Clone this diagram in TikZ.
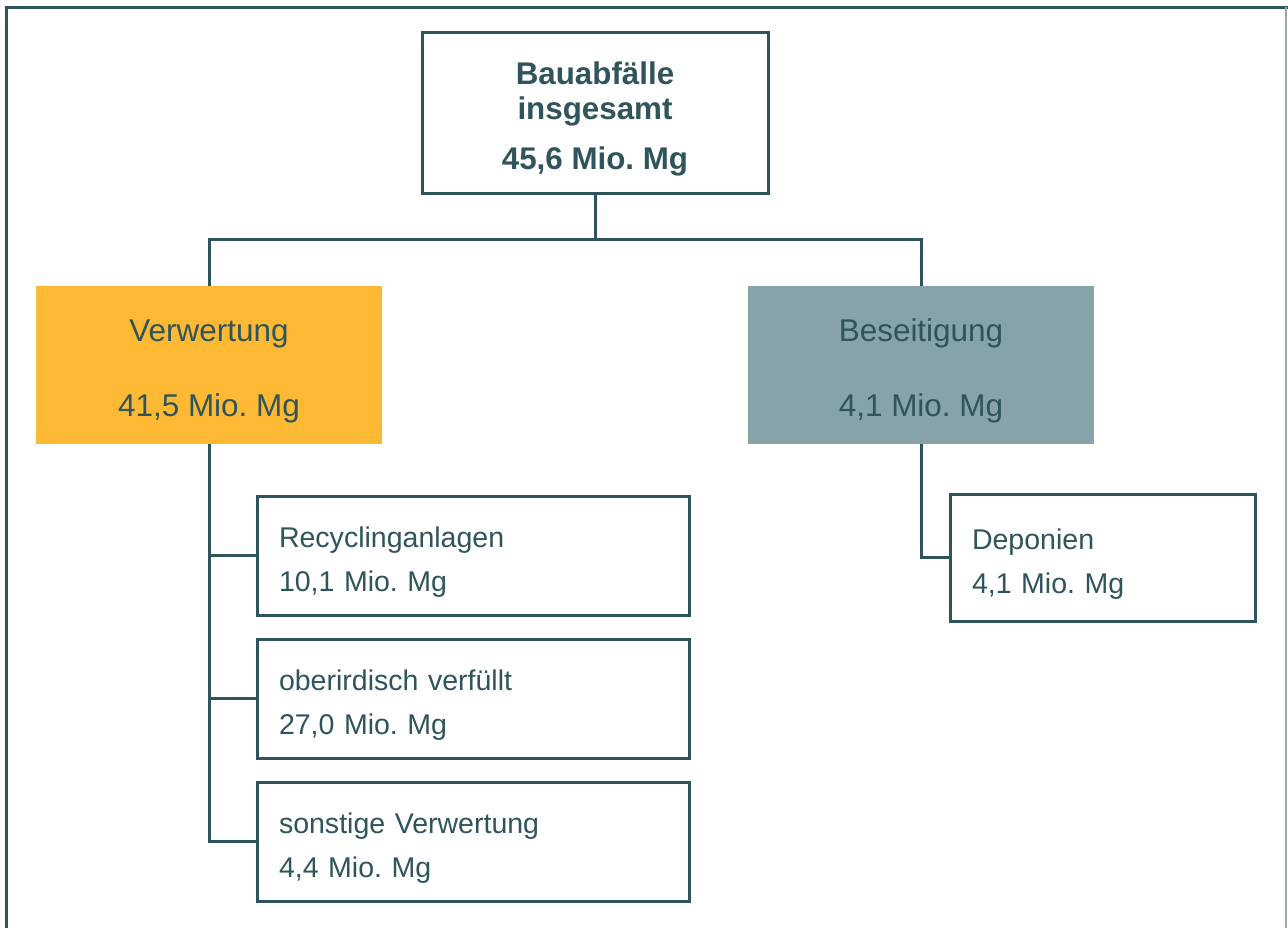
\documentclass[tikz,border=0pt]{standalone}
\usepackage{fontspec}
\setmainfont{Liberation Sans}
\usepackage{xcolor}
\usepackage{tikz}
\usetikzlibrary{positioning}
\definecolor{lineDark}{HTML}{30545C}
\definecolor{verwFill}{HTML}{FDB933}
\definecolor{beseitFill}{HTML}{86A3A7}
\definecolor{frameGrey}{HTML}{9AA5AA}
\frenchspacing

\begin{document}
\begin{tikzpicture}[
  x=0.75pt, y=-0.75pt,
  topbox/.style={rectangle, draw=lineDark, line width=2.25pt, fill=white, minimum width=259.5pt, minimum height=120.75pt, inner sep=0pt, align=center, text height=86pt, text depth=-2.5pt, text=lineDark, font=\fontsize{23.5pt}{26.25pt}\selectfont\bfseries},
  mainbox/.style={rectangle, minimum width=259.5pt, minimum height=118.5pt, inner sep=0pt, align=center, text height=77pt, text depth=-2.5pt, text=lineDark, font=\fontsize{23.6pt}{28pt}\selectfont},
  subbox/.style={rectangle, draw=lineDark, line width=2.25pt, fill=white, minimum width=324pt, minimum height=89.25pt, text width=291pt, inner xsep=16.5pt, inner ysep=0pt, align=left, text depth=27.5pt, text=lineDark, font=\fontsize{21.4pt}{33pt}\selectfont},
  line/.style={draw=lineDark, line width=2.25pt}
]
  \useasboundingbox (0,0) rectangle (1288,928);
  % Frame
  \draw [line] (6,928) -- (6,7) -- (1288,7);
  \draw [draw=frameGrey, line width=1.1pt] (1286,7) -- (1286,928);

  % Nodes
  \node (total) [topbox] at (595,112.5) {Bauabfälle\\insgesamt\\[11.25pt]45,6 Mio. Mg};

  \node (verw) [mainbox, fill=verwFill] at (209,365) {Verwertung\\[28.25pt]41,5 Mio. Mg};
  \node (beseit) [mainbox, fill=beseitFill] at (921,365) {Beseitigung\\[28.25pt]4,1 Mio. Mg};

  \node (recyc) [subbox] at (473,555.5) {Recyclinganlagen\\10,1 Mio. Mg};
  \node (oberird) [subbox, below=15.75pt of recyc] {oberirdisch verfüllt\\27,0 Mio. Mg};
  \node (sonst) [subbox, below=15.75pt of oberird] {sonstige Verwertung\\4,4 Mio. Mg};

  \node (depon) [subbox, minimum width=228.75pt, minimum height=95.25pt, text width=195.75pt] at (1102.5,557.5) {Deponien\\4,1 Mio. Mg};

  % Connectors
  \coordinate (split) at (595,239);
  \draw [line] (total.south) -- (split);
  \draw [line] (verw.north) |- (split) -| (beseit.north);

  \draw [line] (verw.south) |- (sonst.west);
  \draw [line] (verw.south) |- (recyc.west);
  \draw [line] (verw.south) |- (oberird.west);

  \draw [line] (beseit.south) |- (depon.west);
\end{tikzpicture}
\end{document}
